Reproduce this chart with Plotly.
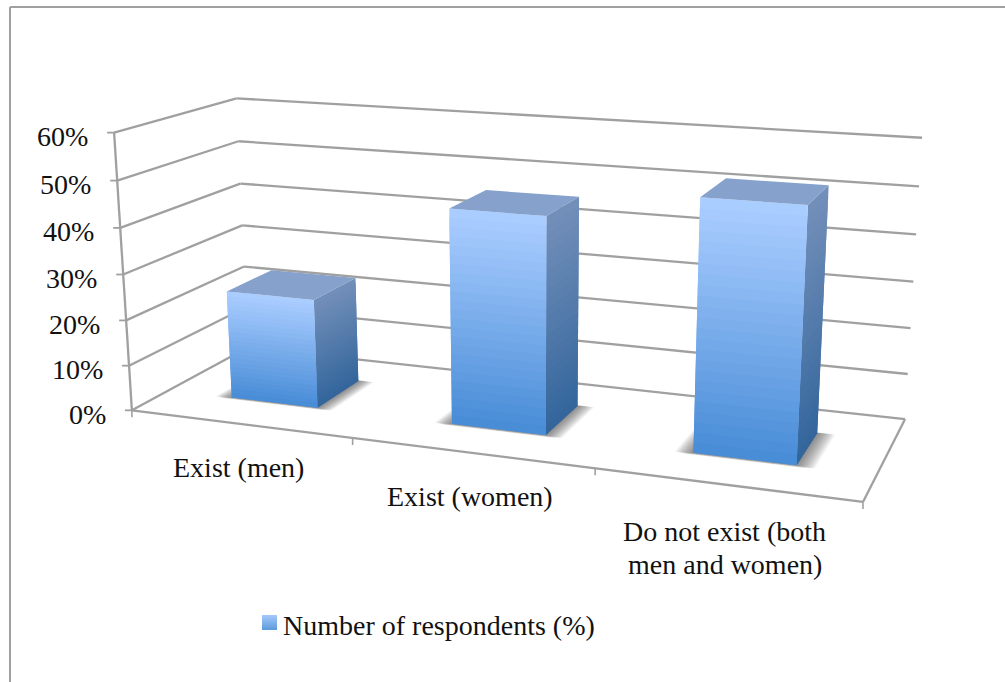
import numpy as np
import plotly.graph_objects as go

# Chart content
categories = ["Exist (men)", "Exist (women)", "Do not exist (both<br>men and women)"]
values = [24, 46, 52]
series_name = "Number of respondents (%)"
axis_ticks = [0, 10, 20, 30, 40, 50, 60]
axis_max = 60

WIDTH, HEIGHT = 1005, 682
FONT = "Liberation Serif"
TEXT_SIZE = 28
GRID = "#a0a0a0"
GAP_WIDTH = 1.5      # gap between bars relative to bar width
BAR_DEPTH = 0.4      # share of the floor depth taken by a bar
BANDS = 24
TICK_LEN = 7

# Camera of the 3-D box: unit-cube corners (category, depth, value) and where they land on the page
CAMERA_POINTS = [
    ((0, 0, 0), (132, 409)), ((0, 0, 1), (114, 133)),
    ((0, 1, 0), (248, 349)), ((0, 1, 1), (237, 98)),
    ((1, 1, 0), (905, 418)), ((1, 1, 1), (922, 138)),
    ((1, 0, 0), (863, 503)), ((0, 1, .5), (241.5, 225)),
]


def fit_camera(points):
    rows = []
    for (x, y, z), (u, v) in points:
        w = [x, y, z, 1]
        rows.append(w + [0] * 4 + [-u * c for c in w])
        rows.append([0] * 4 + w + [-v * c for c in w])
    return np.linalg.svd(np.array(rows))[2][-1].reshape(3, 4)


CAM = fit_camera(CAMERA_POINTS)


def project(x, y, z):
    h = CAM @ np.array([x, y, z, 1.0])
    return float(h[0] / h[2]), float(h[1] / h[2])


def mix(a, b, t):
    return "rgb(%d,%d,%d)" % tuple(round(p + (q - p) * t) for p, q in zip(a, b))


fig = go.Figure()


def polygon(corners, color):
    pts = [project(*c) for c in corners]
    xs, ys = zip(*(pts + pts[:1]))
    fig.add_trace(go.Scatter(x=xs, y=ys, mode="lines", fill="toself", fillcolor=color,
                             line=dict(width=0, simplify=False), hoverinfo="skip", showlegend=False))


def segment(p, q, width=2.3):
    fig.add_trace(go.Scatter(x=[p[0], q[0]], y=[p[1], q[1]], mode="lines",
                             line=dict(color=GRID, width=width), hoverinfo="skip", showlegend=False))


def line(a, b, width=2.3):
    segment(project(*a), project(*b), width)


def shaded_face(a, b, top, top_rgb, bottom_rgb):
    """Vertical face between floor points a and b, in horizontal bands that overlap the next one."""
    for k in range(BANDS):
        t = k / (BANDS - 1)
        z_hi = top * (1 - k / BANDS)
        z_lo = max(top * (1 - (k + 2) / BANDS), 0)
        polygon([(*a, z_hi), (*b, z_hi), (*b, z_lo), (*a, z_lo)], mix(top_rgb, bottom_rgb, t))


# Walls: gridlines on the left and back walls, outward ticks on the value axis
for t in axis_ticks:
    z = t / axis_max
    line((0, 0, z), (0, 1, z))
    line((0, 1, z), (1, 1, z))
    px, py = project(0, 0, z)
    segment((px - TICK_LEN, py), (px, py), 1.8)
line((0, 0, 0), (0, 0, 1))

# Floor outline and category ticks
line((0, 0, 0), (1, 0, 0))
line((1, 0, 0), (1, 1, 0))
for i in range(len(categories) + 1):
    px, py = project(i / len(categories), 0, 0)
    segment((px, py), (px, py + TICK_LEN), 1.6)

# Bars
step = 1 / len(categories)
bar_w = step / (1 + GAP_WIDTH)
y0, y1 = (1 - BAR_DEPTH) / 2, (1 + BAR_DEPTH) / 2
for i, val in enumerate(values):
    cx = (i + 0.5) * step
    x0, x1 = cx - bar_w / 2, cx + bar_w / 2
    top = val / axis_max

    # soft drop shadow on the floor, built from stacked translucent footprints
    layers = 24
    for k in range(layers):
        e = (layers - k) / layers
        dx, df, db = 0.024 * e, 0.022 * e, 0.012 * e
        cut = 0.45
        polygon([(x0 - dx * cut, y0 - df, 0), (x1 + dx * cut, y0 - df, 0),
                 (x1 + dx, y0 - df * cut, 0), (x1 + dx, y1 + db * cut, 0),
                 (x1 + dx * cut, y1 + db, 0), (x0 - dx * cut, y1 + db, 0),
                 (x0 - dx, y1 + db * cut, 0), (x0 - dx, y0 - df * cut, 0)],
                "rgba(50,50,50,0.03)")

    shaded_face((x1, y0), (x1, y1), top, (114, 143, 185), (52, 102, 156))
    shaded_face((x0, y0), (x1, y0), top, (170, 205, 255), (73, 141, 215))
    polygon([(x0, y0, top), (x1, y0, top), (x1, y1, top), (x0, y1, top)], "rgb(133,161,204)")

# Legend key
fig.add_trace(go.Scatter(x=[269.5], y=[622.5], mode="markers", name=series_name, showlegend=False, hoverinfo="skip",
                         marker=dict(symbol="square", size=15, color="#a6c9fb", line=dict(width=0),
                                     gradient=dict(type="vertical", color="#5b9adb"))))

notes = []
for t in axis_ticks:
    px, py = project(0, 0, t / axis_max)
    notes.append(dict(x=px - 24, y=py + 4, text=f"{t}%", xanchor="right", yanchor="middle"))
for i, name in enumerate(categories):
    px, py = project((i + 0.5) * step, 0, 0)
    parts = name.split("<br>")
    first_line = py + (47 if len(parts) > 1 else 44)
    for j, part in enumerate(parts):
        notes.append(dict(x=px - 1, y=first_line + 33 * j, text=part, xanchor="center", yanchor="middle"))
notes.append(dict(x=281, y=625, text=series_name, xanchor="left", yanchor="middle"))
for n in notes:
    n.update(showarrow=False, xref="x", yref="y", align="center",
             font=dict(family=FONT, size=TEXT_SIZE, color="#111111"))

border = dict(type="line", xref="x", yref="y", line=dict(color=GRID, width=2), layer="below")
fig.update_layout(
    width=WIDTH, height=HEIGHT, margin=dict(l=0, r=0, t=0, b=0),
    paper_bgcolor="white", plot_bgcolor="white", showlegend=False,
    xaxis=dict(range=[0, WIDTH], visible=False, fixedrange=True),
    yaxis=dict(range=[HEIGHT, 0], visible=False, fixedrange=True),
    annotations=notes,
    shapes=[dict(border, x0=10, y0=7, x1=WIDTH, y1=7), dict(border, x0=10, y0=7, x1=10, y1=HEIGHT)],
)
fig.write_html("out.html", config=dict(displayModeBar=False))
